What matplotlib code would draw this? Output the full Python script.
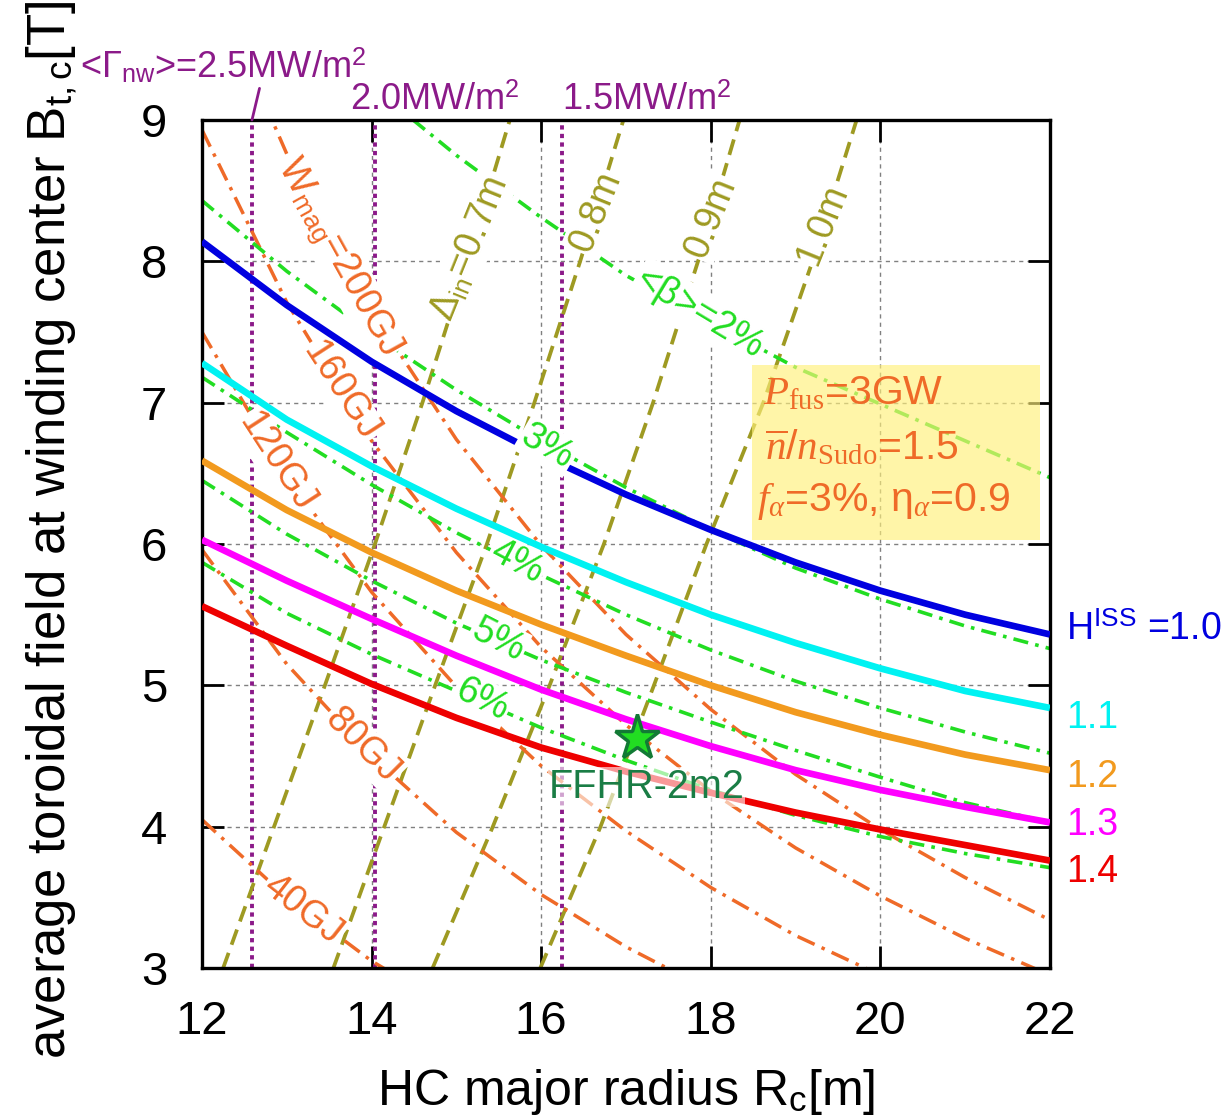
import matplotlib
matplotlib.use('Agg')
import matplotlib.pyplot as plt
from matplotlib.patches import Rectangle

plt.rcParams['font.family'] = ['Liberation Sans', 'DejaVu Sans']
plt.rcParams['mathtext.fontset'] = 'custom'
plt.rcParams['mathtext.rm'] = 'Liberation Sans'
plt.rcParams['mathtext.sf'] = 'Liberation Sans'
plt.rcParams['mathtext.it'] = 'Liberation Serif:italic'
plt.rcParams['mathtext.tt'] = 'Liberation Serif'
plt.rcParams['mathtext.bf'] = 'Liberation Sans:bold'

# H^ISS curves (B_t,c vs R_c)
R_h = [12, 13, 14, 15, 16, 17, 18, 19, 20, 21, 22]
h10 = [8.14, 7.69, 7.29, 6.94, 6.63, 6.35, 6.10, 5.87, 5.67, 5.50, 5.36]
h11 = [7.28, 6.88, 6.55, 6.25, 5.98, 5.73, 5.50, 5.30, 5.12, 4.96, 4.84]
h12 = [6.59, 6.24, 5.94, 5.67, 5.43, 5.21, 5.00, 4.81, 4.65, 4.51, 4.40]
h13 = [6.03, 5.74, 5.47, 5.21, 4.97, 4.76, 4.57, 4.40, 4.26, 4.14, 4.03]
h14 = [5.56, 5.28, 5.01, 4.77, 4.56, 4.39, 4.24, 4.10, 3.98, 3.87, 3.76]
h_names = ['1.0', '1.1', '1.2', '1.3', '1.4']

# <beta> contours
R_b2 = [14.49, 15, 16, 17, 18, 19, 20, 21, 22]
b2 = [9.0, 8.75, 8.31, 7.90, 7.57, 7.25, 6.99, 6.73, 6.47]
R_b = [12, 13, 14, 15, 16, 17, 18, 19, 20, 21, 22]
b3 = [8.43, 7.93, 7.49, 7.09, 6.73, 6.40, 6.10, 5.83, 5.61, 5.42, 5.26]
b4 = [7.18, 6.79, 6.42, 6.08, 5.78, 5.50, 5.25, 5.03, 4.84, 4.67, 4.52]
b5 = [6.45, 6.07, 5.74, 5.44, 5.18, 4.95, 4.74, 4.54, 4.35, 4.17, 4.03]
b6 = [5.87, 5.51, 5.22, 4.96, 4.70, 4.47, 4.26, 4.08, 3.93, 3.81, 3.71]

# stored magnetic energy W_mag contours
R_w = [12, 13, 14, 15, 16, 17, 18, 19, 20, 21, 22]
w40 = [4.05, 3.50, 3.05, 2.69]
w80 = [5.96, 5.15, 4.50, 3.96, 3.52, 3.15, 2.84]
w120 = [7.50, 6.48, 5.66, 4.99, 4.43, 3.97, 3.57, 3.23, 2.95]
w160 = [8.93, 7.71, 6.73, 5.94, 5.27, 4.72, 4.25, 3.85, 3.51, 3.21, 2.95]
w200 = [10.14, 8.76, 7.65, 6.74, 5.99, 5.36, 4.83, 4.37, 3.98, 3.64, 3.34]

# inboard blanket space Delta_in contours (R at given B)
B_d = [3, 4, 5, 6, 7, 8, 9]
d07 = [12.25, 12.85, 13.45, 14.04, 14.60, 15.13, 15.63]
d08 = [13.55, 14.15, 14.75, 15.36, 15.92, 16.46, 16.97]
d09 = [14.72, 15.43, 16.10, 16.74, 17.32, 17.85, 18.34]
d10 = [15.99, 16.70, 17.33, 17.95, 18.62, 19.20, 19.72]

# neutron wall load lines
nw_R = [12.59, 14.04, 16.25]

# design point FFHR-2m2
ffhr_R, ffhr_B = 17.13, 4.63

blue, cyan, orng, mag, red = '#0000e0', '#00f2f2', '#f29a1e', '#ff00ff', '#ee0000'
green = '#22dd22'
wcol = '#ef6a28'
olive = '#9e9a22'
purple = '#8b1a89'

fig = plt.figure(figsize=(12.27, 11.16), dpi=100)
ax = fig.add_axes([0.1646, 0.1326, 0.6911, 0.7599])

for x in nw_R:
    ax.axvline(x, color=purple, lw=2.8, ls=(0, (1.1, 1.1)), zorder=2)

for rr in [d07, d08, d09, d10]:
    ax.plot(rr, B_d, color=olive, lw=2.7, ls=(0, (4.3, 2.3)), zorder=2)

for ww in [w40, w80, w120, w160, w200]:
    ax.plot(R_w[:len(ww)], ww, color=wcol, lw=2.5, ls=(0, (5.4, 2.2, 1, 2.2)), zorder=2)

ax.plot(R_b2, b2, color=green, lw=2.6, ls=(0, (4.2, 2.0, 1, 2.0)), zorder=2.5)
for bb in [b3, b4, b5, b6]:
    ax.plot(R_b, bb, color=green, lw=2.6, ls=(0, (4.2, 2.0, 1, 2.0)), zorder=2.5)

h_cols = [blue, cyan, orng, mag, red]
for hh, c in zip([h10, h11, h12, h13, h14], h_cols):
    ax.plot(R_h, hh, color=c, lw=4.8, solid_capstyle='butt', solid_joinstyle='round', zorder=3.5)

ax.set_xlim(12, 22)
ax.set_ylim(3, 9)
ax.set_xticks([12, 14, 16, 18, 20, 22])
ax.set_yticks([3, 4, 5, 6, 7, 8, 9])
ax.tick_params(direction='in', length=16, width=2, top=True, right=True, labelsize=34)
ax.tick_params(axis='x', pad=23)
ax.tick_params(axis='y', pad=25)
ax.grid(True, color='#808080', lw=1.0, ls=(0, (3, 3)))
ax.set_axisbelow(True)
for s in ax.spines.values():
    s.set_linewidth(2.4)

box = dict(boxstyle='square,pad=0.05', fc='white', ec='none')


def lab(x, y, s, color, rot, size=26, z=3.2):
    ax.text(x, y, s, color=color, rotation=rot, rotation_mode='anchor', ha='center', va='center',
            fontsize=size, zorder=z, bbox=box)


# W_mag labels
lab(13.60, 8.03, r'W$_{\rm mag}$=200GJ', wcol, -61, 27)
lab(13.63, 7.08, '160GJ', wcol, -57, 27)
lab(12.88, 6.58, '120GJ', wcol, -57, 27)
lab(13.89, 4.57, '80GJ', wcol, -45, 27)
lab(13.19, 3.41, '40GJ', wcol, -38, 27)

# beta labels
lab(17.87, 7.64, r'<$\mathrm{\beta}$>=2%', green, -31, 27)
lab(16.07, 6.69, '3%', green, -30, 27, z=4)
lab(15.71, 5.87, '4%', green, -28, 27)
lab(15.49, 5.32, '5%', green, -27, 27)
lab(15.30, 4.90, '6%', green, -26, 27)

# Delta_in labels
lab(15.16, 8.09, r'$\mathrm{\Delta_{in}}$=0.7m', olive, 68, 27)
lab(16.64, 8.35, '0.8m', olive, 68, 27)
lab(18.00, 8.31, '0.9m', olive, 68, 27)
lab(19.32, 8.26, '1.0m', olive, 68, 27)

# parameter box
ax.add_patch(Rectangle((0.649, 0.505), 0.339, 0.206, transform=ax.transAxes,
                       fc='#fff07a', ec='none', alpha=0.65, zorder=5))
ax.text(18.62, 6.99, r'$P_{\mathtt{fus}}$=3GW', color=wcol, fontsize=29.5, va='baseline', zorder=6)
ax.text(18.64, 6.60, r'$\overline{n}/n_{\mathtt{Sudo}}$=1.5', color=wcol, fontsize=29.5, va='baseline', zorder=6)
ax.text(18.55, 6.23, r'$f_{\alpha}$=3%, $\mathrm{\eta}_{\alpha}$=0.9', color=wcol, fontsize=29.5, va='baseline', zorder=6)

# design point
ax.plot([ffhr_R], [ffhr_B], marker='*', ms=34, mfc=green, mec='#127a35', mew=2.5, zorder=7)
ax.text(17.24, 4.28, 'FFHR-2m2', color='#1a7d45', fontsize=28.5, ha='center', va='center', zorder=4,
        bbox=dict(boxstyle='square,pad=0.02', fc='white', ec='none', alpha=0.6))

# H^ISS labels on the right
h_lab_y = [5.32, 4.70, 4.28, 3.94, 3.61]
for name, c, yy in zip(h_names, h_cols, h_lab_y):
    s = r'H$^{\rm ISS}$ =' + name if name == '1.0' else name
    ax.text(22.19, yy, s, color=c, fontsize=27, ha='left', va='baseline', clip_on=False)

# neutron wall load labels above the frame
ax.annotate(r'<$\Gamma_{\rm nw}$>=2.5MW/m$^2$', xy=(nw_R[0], 9.0), xytext=(10.56, 9.30),
            color=purple, fontsize=26, ha='left', va='baseline', annotation_clip=False,
            arrowprops=dict(arrowstyle='-', color=purple, lw=2, shrinkA=0, shrinkB=0, relpos=(0.63, 0.0)))
ax.text(13.75, 9.07, r'2.0MW/m$^2$', color=purple, fontsize=26, ha='left', va='baseline')
ax.text(16.25, 9.07, r'1.5MW/m$^2$', color=purple, fontsize=26, ha='left', va='baseline')

ax.set_xlabel(r'HC major radius R$_{\rm c}$[m]', fontsize=36)
ax.xaxis.set_label_coords(0.5, -0.117)
fig.text(0.042, 0.525, r'average toroidal field at winding center B$_{\rm t,c}$[T]', fontsize=38,
         rotation=90, ha='center', va='center')

fig.savefig('out.png', dpi=100)
